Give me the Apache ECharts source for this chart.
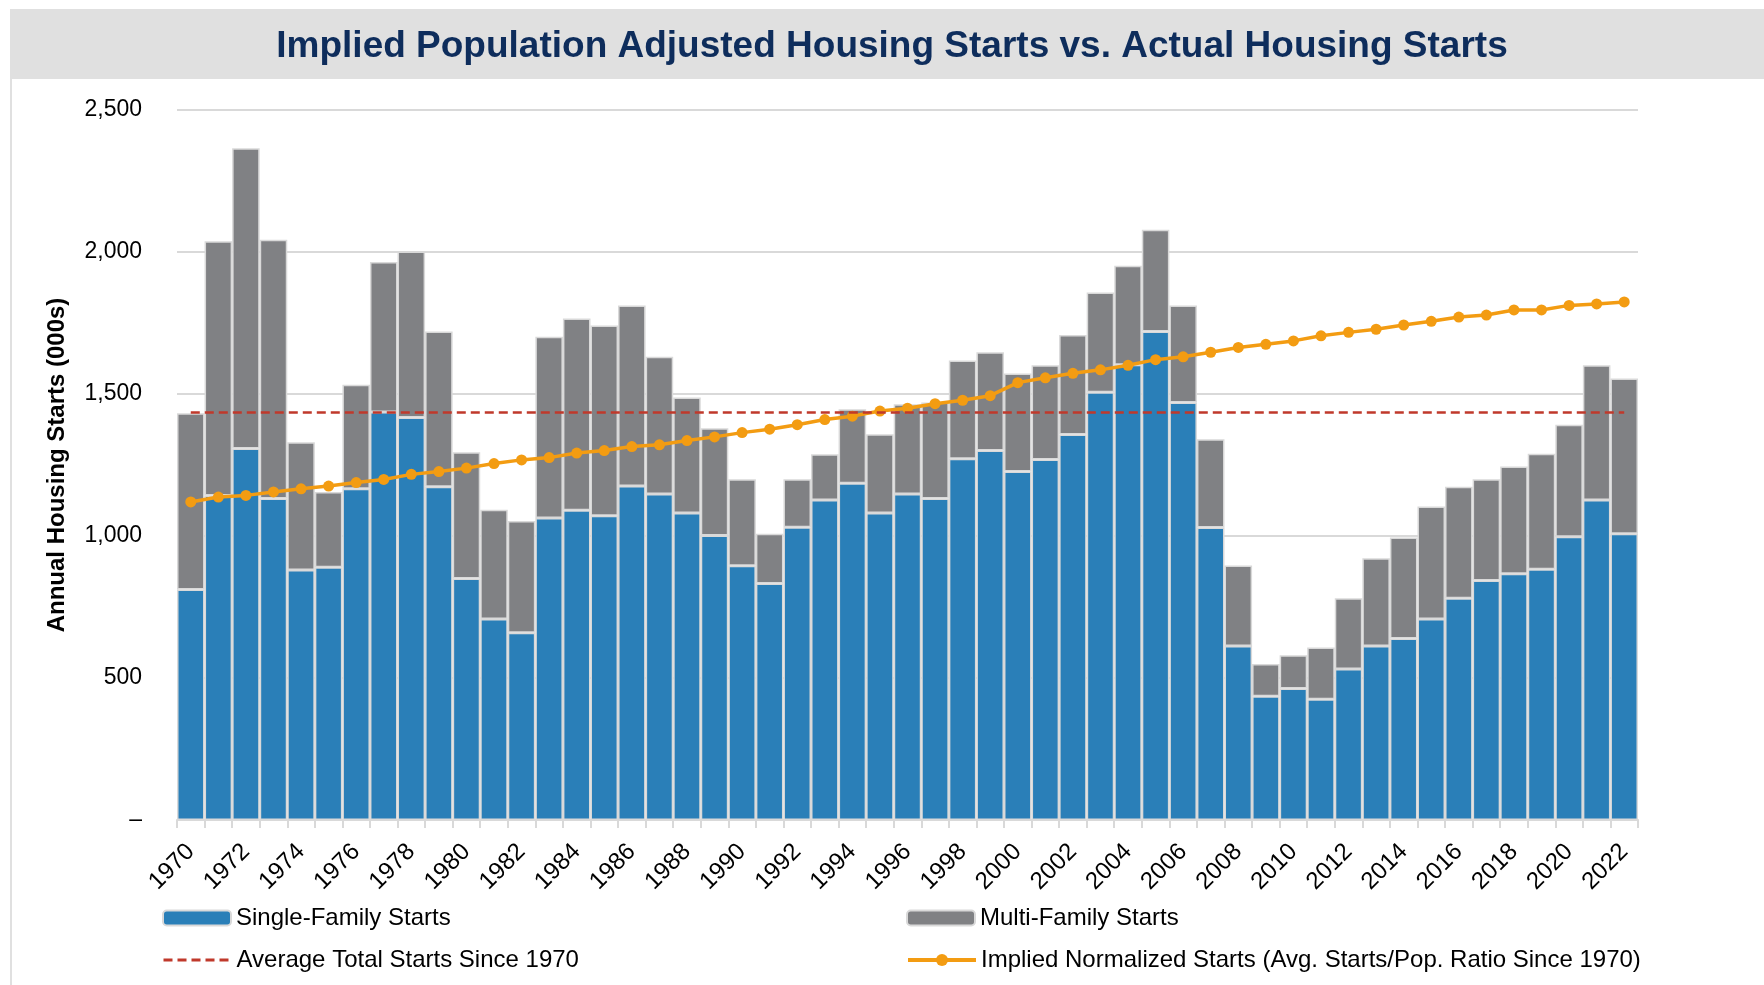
<!DOCTYPE html>
<html lang="en">
<head>
  <meta charset="UTF-8">
  <title>Implied Population Adjusted Housing Starts vs. Actual Housing Starts</title>
  <style>
    html, body { margin: 0; padding: 0; background: #fff; }
    #main { width: 1764px; height: 985px; }
  </style>
</head>
<body>
  <div id="main"></div>

  <script src="https://cdn.jsdelivr.net/npm/echarts/dist/echarts.min.js"></script>
  <script type="text/javascript">
    // years on the x axis
    var years = [
      '1970','1971','1972','1973','1974','1975','1976','1977','1978','1979',
      '1980','1981','1982','1983','1984','1985','1986','1987','1988','1989',
      '1990','1991','1992','1993','1994','1995','1996','1997','1998','1999',
      '2000','2001','2002','2003','2004','2005','2006','2007','2008','2009',
      '2010','2011','2012','2013','2014','2015','2016','2017','2018','2019',
      '2020','2021','2022'
    ];

    // total starts (000s)
    var totalStarts = [
      1432, 2038, 2365, 2043, 1330, 1155, 1533, 1965, 2002, 1720,
      1295, 1092, 1053, 1702, 1766, 1741, 1812, 1631, 1488, 1379,
      1200, 1008, 1200, 1288, 1446, 1358, 1464, 1470, 1618, 1647,
      1572, 1601, 1708, 1857, 1952, 2078, 1812, 1341, 896, 549,
      580, 607, 781, 922, 995, 1104, 1173, 1200, 1245, 1290,
      1392, 1601, 1555
    ];

    // single-family starts (000s)
    var singleFamily = [
      812, 1143, 1308, 1132, 880, 890, 1166, 1437, 1417, 1173,
      850, 708, 659, 1063, 1091, 1071, 1176, 1148, 1081, 1002,
      895, 833, 1031, 1127, 1186, 1081, 1148, 1132, 1272, 1301,
      1227, 1269, 1357, 1506, 1603, 1720, 1470, 1030, 613, 436,
      463, 425, 532, 613, 639, 708, 781, 843, 867, 883,
      997, 1127, 1008
    ];

    // implied normalized starts (orange line)
    var impliedStarts = [
      1120, 1137, 1143, 1155, 1166, 1176, 1188, 1199, 1217, 1227,
      1239, 1255, 1268, 1276, 1292, 1301, 1315, 1321, 1336, 1349,
      1364, 1376, 1392, 1410, 1422, 1440, 1450, 1466, 1478, 1494,
      1540, 1557, 1573, 1585, 1601, 1621, 1631, 1647, 1664, 1675,
      1687, 1705, 1717, 1728, 1743, 1756, 1771, 1778, 1796, 1796,
      1812, 1817, 1824
    ];

    var avgTotal = 1437;

    var yTicks = [0, 500, 1000, 1500, 2000, 2500];

    // multi-family = total - single-family
    var multiFamily = totalStarts.map(function (t, i) { return t - singleFamily[i]; });

    var fontFam = 'Liberation Sans, Arial, sans-serif';
    var legendText = { fontSize: 24, color: '#000', fontFamily: fontFam };

    var myChart = echarts.init(document.getElementById('main'));

    var option = {
      animation: false,
      textStyle: { fontFamily: fontFam },
      graphic: [
        { type: 'rect', left: 10, top: 9, shape: { width: 1754, height: 70 }, style: { fill: '#e0e0e0' }, z: -10 },
        { type: 'line', shape: { x1: 11, y1: 9, x2: 11, y2: 985 }, style: { stroke: '#e0e0e0', lineWidth: 2 }, z: -10 }
      ],
      title: {
        text: 'Implied Population Adjusted Housing Starts vs. Actual Housing Starts',
        left: 892,
        top: 28,
        padding: 0,
        textAlign: 'center',
        textStyle: { fontSize: 37, fontWeight: 'bold', color: '#0e2d5c', fontFamily: fontFam }
      },
      grid: { left: 177, right: 126, top: 110, bottom: 165 },
      legend: [
        { data: ['Single-Family Starts'], left: 162, top: 906, padding: 0, itemWidth: 68, itemHeight: 15, textStyle: legendText },
        { data: ['Multi-Family Starts'], left: 906, top: 906, padding: 0, itemWidth: 68, itemHeight: 15, textStyle: legendText },
        {
          data: ['Average Total Starts Since 1970'], left: 162, top: 948, padding: 0,
          itemWidth: 68, itemHeight: 15, textStyle: legendText,
          itemStyle: { opacity: 0 }, lineStyle: { width: 3 }
        },
        {
          data: ['Implied Normalized Starts (Avg. Starts/Pop. Ratio Since 1970)'], left: 906, top: 948, padding: 0,
          itemWidth: 68, itemHeight: 15, textStyle: legendText, lineStyle: { width: 4 }
        }
      ],
      xAxis: {
        type: 'category',
        data: years,
        boundaryGap: true,
        axisLine: { lineStyle: { color: '#d9d9d9', width: 2 } },
        axisTick: { show: true, interval: 0, length: 8, lineStyle: { color: '#d9d9d9', width: 2 } },
        axisLabel: { interval: 1, rotate: 45, fontSize: 24, color: '#000', margin: 28 }
      },
      yAxis: {
        type: 'value',
        min: yTicks[0],
        max: yTicks[yTicks.length - 1],
        interval: 500,
        name: 'Annual Housing Starts (000s)',
        nameLocation: 'middle',
        nameGap: 108,
        nameTextStyle: { fontSize: 24, fontWeight: 'bold', color: '#000' },
        axisLine: { show: false },
        axisTick: { show: false },
        axisLabel: {
          fontSize: 23,
          color: '#000',
          margin: 35,
          formatter: function (v) { return v === 0 ? '–' : v.toLocaleString('en-US'); }
        },
        splitLine: { lineStyle: { color: '#d9d9d9', width: 2 } }
      },
      series: [
        {
          name: 'Single-Family Starts',
          type: 'bar',
          stack: 'starts',
          barWidth: '100%',
          data: singleFamily,
          itemStyle: { color: '#2a7fb8', borderColor: '#d9d9d9', borderWidth: 1.5 }
        },
        {
          name: 'Multi-Family Starts',
          type: 'bar',
          stack: 'starts',
          barWidth: '100%',
          data: multiFamily,
          itemStyle: { color: '#808184', borderColor: '#d9d9d9', borderWidth: 1.5 }
        },
        {
          name: 'Average Total Starts Since 1970',
          type: 'line',
          data: [],
          symbol: 'none',
          lineStyle: { color: '#c0392b', width: 2.5, type: [9, 5] },
          itemStyle: { color: '#c0392b' },
          markLine: {
            silent: true,
            symbol: 'none',
            label: { show: false },
            lineStyle: { color: '#c0392b', width: 2.5, type: [9, 5] },
            data: [[
              { coord: [years[0], avgTotal] },
              { coord: [years[years.length - 1], avgTotal] }
            ]]
          },
          z: 3
        },
        {
          name: 'Implied Normalized Starts (Avg. Starts/Pop. Ratio Since 1970)',
          type: 'line',
          data: impliedStarts,
          symbol: 'circle',
          symbolSize: 11,
          lineStyle: { color: '#f39c12', width: 3.5 },
          itemStyle: { color: '#f39c12' },
          z: 4
        }
      ]
    };

    myChart.setOption(option);
  </script>
</body>
</html>
